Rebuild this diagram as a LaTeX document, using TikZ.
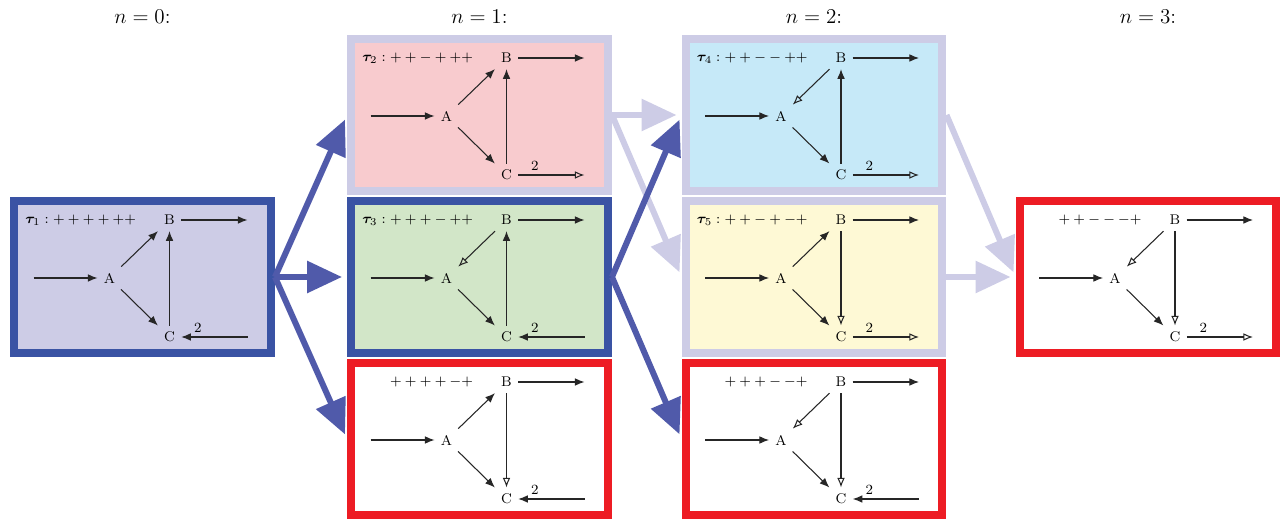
\documentclass[tikz,border=0pt]{standalone}
\usepackage{amsmath,amssymb}
\usepackage{bm}
\usepackage{tikz}
\usetikzlibrary{arrows.meta,calc}
\usepackage{xcolor}

\definecolor{frameblue}{HTML}{3A53A4}
\definecolor{arrowblue}{HTML}{505AAA}
\definecolor{lav}{HTML}{CDCCE6}
\definecolor{pinkfill}{HTML}{F8CBCE}
\definecolor{greenfill}{HTML}{D2E6C8}
\definecolor{bluefill}{HTML}{C6E9F8}
\definecolor{yellowfill}{HTML}{FEF9D5}
\definecolor{framered}{HTML}{ED1C24}

\tikzset{
  panelbox/.style={draw, line width=0.16cm, inner sep=0pt,
    minimum width=5.14cm, minimum height=3.04cm},
  solidhead/.style={-{Latex[length=5.5pt,width=4.4pt]}},
  openhead/.style={-{Latex[open,length=5.5pt,width=4.4pt]}},
  solidback/.style={{Latex[length=5.5pt,width=4.4pt]}-},
  openback/.style={{Latex[open,length=5.5pt,width=4.4pt]}-},
  bigarrow/.style={line width=0.12cm, shorten >=0.1cm,
    -{Triangle[length=0.7cm,width=0.62cm]}},
}

% one motif: name, centre, fill, frame, label, A-B, C-B, port of C
\newcommand{\motif}[8]{%
  \node[panelbox, fill=#3, draw=#4] (#1) at (#2) {};
  \node (#1A) at ($(#1)+(-33,1)$) {A};
  \node (#1B) at ($(#1)+(27,-57)$) {B};
  \node (#1C) at ($(#1)+(27,60)$) {C};
  \node[anchor=mid east, inner sep=0pt] (#1L) at ($(#1)+(-6,-57)$) {#5};
  \coordinate (#1in) at ($(#1)+(-109,1)$);
  \coordinate (#1out) at ($(#1)+(105,-57)$);
  \coordinate (#1port) at ($(#1)+(105,60)$);
  \draw[solidhead] (#1in) -- (#1A);
  \draw[solidhead] (#1B) -- (#1out);
  \draw[solidhead] (#1A) -- (#1C);
  \draw[#6] (#1A) -- (#1B);
  \draw[#7] (#1C) -- (#1B);
  \draw[#8] (#1C) -- node[pos=.25, above=1.5pt, inner sep=1pt] {2} (#1port);
}

\begin{document}
\begin{tikzpicture}[x=0.02cm, y=-0.02cm, font=\footnotesize, line width=0.6pt,
  draw=black!85]
\useasboundingbox (0,0) rectangle (1280,519);

\node[font=\large] (h0) at (142.5,17) {$n=0$:};
\node[font=\large] (h1) at (479.5,17) {$n=1$:};
\node[font=\large] (h2) at (814,17) {$n=2$:};
\node[font=\large] (h3) at (1148,17) {$n=3$:};

\motif{t1}{142.5,277}{lav}{frameblue}{$\bm{\tau}_1: ++++++$}{solidhead}{solidhead}{solidback}
\motif{t2}{479.5,115}{pinkfill}{lav}{$\bm{\tau}_2: ++-+++$}{solidhead}{solidhead}{openhead}
\motif{t3}{479.5,277}{greenfill}{frameblue}{$\bm{\tau}_3: +++-++$}{openback}{solidhead}{solidback}
\motif{r1}{479.5,439}{white}{framered}{$++++-+$}{solidhead}{openback}{solidback}
\motif{t4}{814,115}{bluefill}{lav}{$\bm{\tau}_4: ++--++$}{openback}{solidhead}{openhead}
\motif{t5}{814,277}{yellowfill}{lav}{$\bm{\tau}_5: ++-+-+$}{solidhead}{openback}{openhead}
\motif{r2}{814,439}{white}{framered}{$+++--+$}{openback}{openback}{solidback}
\motif{r3}{1148,277}{white}{framered}{$++---+$}{openback}{openback}{openhead}

% steps not taken
\draw[bigarrow, lav] (t2.east) -- (t4.west);
\draw[bigarrow, lav] (t2.east) -- (t5.west);
\draw[bigarrow, lav] (t4.east) -- (r3.west);
\draw[bigarrow, lav] (t5.east) -- (r3.west);
% steps taken
\draw[bigarrow, arrowblue] (t1.east) -- (t2.west);
\draw[bigarrow, arrowblue] (t1.east) -- (t3.west);
\draw[bigarrow, arrowblue] (t1.east) -- (r1.west);
\draw[bigarrow, arrowblue] (t3.east) -- (t4.west);
\draw[bigarrow, arrowblue] (t3.east) -- (r2.west);
\end{tikzpicture}
\end{document}
